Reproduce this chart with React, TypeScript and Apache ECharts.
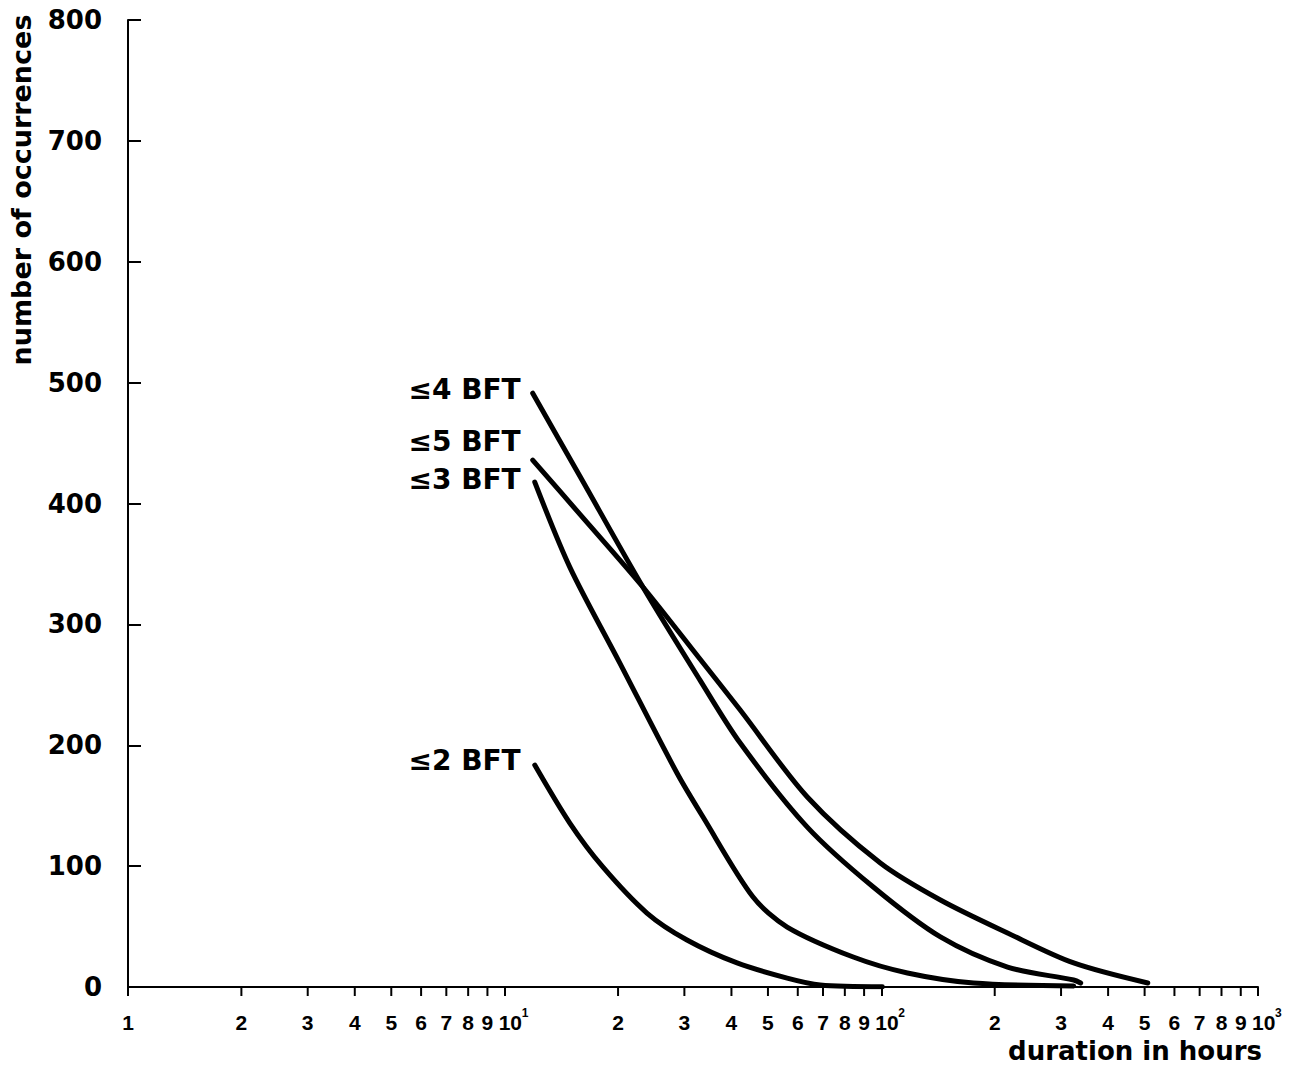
import React, { useEffect, useRef } from "react";
import * as echarts from "echarts";

// ---- data ----
const bft4X = [11.87, 15.83, 23.28, 33.0, 42.2, 63.6, 95.2, 143.5, 216.3, 324.1, 338.2];
const bft4Y = [491.3, 422.7, 330.9, 253.9, 201.8, 132.3, 82.7, 41.4, 16.5, 5.8, 3.3];

const bft5X = [11.87, 15.83, 23.28, 33.0, 42.2, 63.6, 99.4, 143.5, 216.3, 324.1, 509.8];
const bft5Y = [435.9, 391.2, 330.9, 271.3, 229.1, 157.2, 102.6, 72.0, 44.7, 19.9, 3.3];

const bft3X = [12.02, 14.89, 20.22, 28.67, 33.62, 45.65, 56.23, 84.23, 117.3, 175.7, 324.1];
const bft3Y = [417.7, 347.4, 268.0, 177.0, 140.6, 74.4, 49.6, 24.8, 11.6, 3.3, 0.8];

const bft2X = [12.02, 14.89, 18.22, 23.86, 30.48, 41.4, 56.23, 68.82, 100.6];
const bft2Y = [183.6, 135.6, 99.3, 61.2, 38.9, 19.9, 7.4, 1.7, 0.3];

const curveLabels = ["≤4 BFT", "≤5 BFT", "≤3 BFT", "≤2 BFT"];
const curveLabelX = [11.87, 11.87, 11.87, 11.87];
const curveLabelY = [494.6, 451, 420, 187];

const decadeTicks = [1, 10, 100, 1000];
const decadeLabels = ["1", "10", "10", "10"];
const decadeExponents = ["", "1", "2", "3"];
const minorTicks = [2, 3, 4, 5, 6, 7, 8, 9, 20, 30, 40, 50, 60, 70, 80, 90, 200, 300, 400, 500, 600, 700, 800, 900];
const minorLabels = ["2", "3", "4", "5", "6", "7", "8", "9", "2", "3", "4", "5", "6", "7", "8", "9", "2", "3", "4", "5", "6", "7", "8", "9"];

const yTitle = "number of occurrences";
const xTitle = "duration in hours";

const SANS = "'Liberation Sans', Arial, Helvetica, sans-serif";
const WIDE = "'DejaVu Sans', Verdana, sans-serif";

function zip(xs: number[], ys: number[]) {
  return xs.map((x, i) => [x, ys[i]]);
}

export default function App() {
  const ref = useRef<HTMLDivElement>(null);

  useEffect(() => {
    document.body.style.margin = "0";
    const chart = echarts.init(ref.current!, null, { renderer: "svg" });

    const lineStyle = { color: "#000", width: 5, cap: "round" as const, join: "round" as const };
    const mkLine = (name: string, xs: number[], ys: number[]) => ({
      type: "line",
      name,
      data: zip(xs, ys),
      showSymbol: false,
      symbol: "none",
      smooth: 0.3,
      lineStyle,
      silent: true,
      z: 3,
    });

    chart.setOption({
      animation: false,
      backgroundColor: "#fff",
      grid: { left: 128, right: 40, top: 20, bottom: 97, containLabel: false },
      xAxis: {
        type: "log",
        logBase: 10,
        min: 1,
        max: 1000,
        axisLine: { show: true, lineStyle: { color: "#000", width: 2 } },
        axisTick: { show: true, inside: false, length: 9, lineStyle: { color: "#000", width: 2 } },
        splitLine: { show: false },
        axisLabel: { show: false },
      },
      yAxis: {
        type: "value",
        min: 0,
        max: 800,
        interval: 100,
        axisLine: { show: true, lineStyle: { color: "#000", width: 2 } },
        axisTick: { show: true, inside: true, length: 13, lineStyle: { color: "#000", width: 2 } },
        splitLine: { show: false },
        axisLabel: {
          margin: 26,
          color: "#000",
          fontFamily: WIDE,
          fontWeight: "bold",
          fontSize: 26,
        },
      },
      series: [
        mkLine("≤4 BFT", bft4X, bft4Y),
        mkLine("≤5 BFT", bft5X, bft5Y),
        mkLine("≤3 BFT", bft3X, bft3Y),
        mkLine("≤2 BFT", bft2X, bft2Y),
        {
          type: "custom",
          name: "curveLabels",
          clip: false,
          silent: true,
          data: curveLabelX.map((x, i) => [x, curveLabelY[i], i]),
          encode: { x: 0, y: 1 },
          renderItem: (params: any, api: any) => {
            const p = api.coord([api.value(0), api.value(1)]);
            const i = api.value(2);
            return {
              type: "text",
              x: p[0] - 12,
              y: p[1],
              style: {
                text: curveLabels[i],
                fill: "#000",
                font: `bold 28px ${WIDE}`,
                textAlign: "right",
                textVerticalAlign: "middle",
              },
            };
          },
        },
        {
          type: "custom",
          name: "minorTicks",
          clip: false,
          silent: true,
          data: minorTicks.map((v, i) => [v, 0, i]),
          encode: { x: 0, y: 1 },
          renderItem: (params: any, api: any) => {
            const p = api.coord([api.value(0), 0]);
            const i = api.value(2);
            return {
              type: "group",
              children: [
                {
                  type: "line",
                  shape: { x1: p[0], y1: p[1], x2: p[0], y2: p[1] + 9 },
                  style: { stroke: "#000", lineWidth: 2 },
                },
                {
                  type: "text",
                  x: p[0],
                  y: p[1] + 25,
                  style: {
                    text: minorLabels[i],
                    fill: "#000",
                    font: `bold 21px ${SANS}`,
                    textAlign: "center",
                    textVerticalAlign: "top",
                  },
                },
              ],
            };
          },
        },
        {
          type: "custom",
          name: "decadeLabels",
          clip: false,
          silent: true,
          data: decadeTicks.map((v, i) => [v, 0, i]),
          encode: { x: 0, y: 1 },
          renderItem: (params: any, api: any) => {
            const p = api.coord([api.value(0), 0]);
            const i = api.value(2);
            const sup = decadeExponents[i];
            const children: any[] = [
              {
                type: "text",
                x: sup ? p[0] - 6 : p[0],
                y: p[1] + 25,
                style: {
                  text: decadeLabels[i],
                  fill: "#000",
                  font: `bold 21px ${SANS}`,
                  textAlign: sup ? "left" : "center",
                  textVerticalAlign: "top",
                },
              },
            ];
            if (sup) {
              children.push({
                type: "text",
                x: p[0] + 17,
                y: p[1] + 20,
                style: {
                  text: sup,
                  fill: "#000",
                  font: `bold 12px ${SANS}`,
                  textAlign: "left",
                  textVerticalAlign: "top",
                },
              });
            }
            return { type: "group", children };
          },
        },
      ],
      graphic: [
        {
          type: "text",
          x: 21,
          y: 190,
          rotation: Math.PI / 2,
          style: {
            text: yTitle,
            fill: "#000",
            font: `bold 27px ${WIDE}`,
            textAlign: "center",
            textVerticalAlign: "middle",
          },
        },
        {
          type: "text",
          x: 1262,
          y: 1051,
          style: {
            text: xTitle,
            fill: "#000",
            font: `bold 26px ${WIDE}`,
            textAlign: "right",
            textVerticalAlign: "middle",
          },
        },
      ],
    });

    return () => chart.dispose();
  }, []);

  return (
    <div
      ref={ref}
      style={{ position: "absolute", left: 0, top: 0, width: 1298, height: 1084 }}
    />
  );
}
